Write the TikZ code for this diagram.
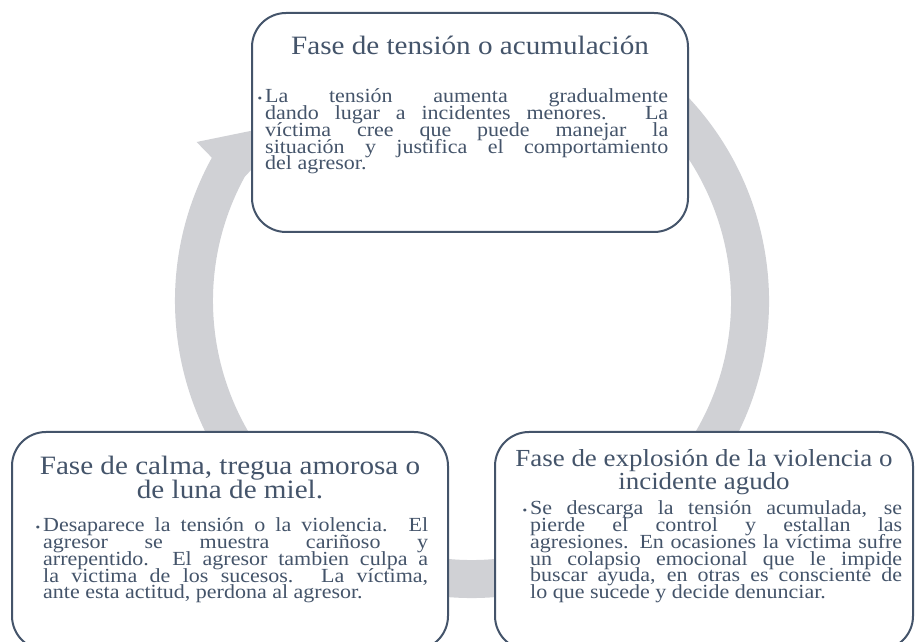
\documentclass[tikz,border=0pt]{standalone}
\usepackage{fontspec}
\setmainfont{Liberation Serif}
\newfontfamily\widefamily[FakeStretch=1.1]{Liberation Serif}
\usepackage{xcolor}
\usetikzlibrary{positioning}
\definecolor{slate}{RGB}{68,84,106}
\definecolor{cyclegray}{RGB}{208,209,213}
\newcommand{\titlefont}{\widefamily\fontsize{26.5}{24}\selectfont\lineskiplimit=-50pt}
\newcommand{\bodyfont}{\widefamily\fontsize{20}{16.7}\selectfont\lineskiplimit=-50pt\hbadness=10000}
\newcommand{\itembullet}{\llap{{\fontsize{12}{12}\selectfont\textbullet}\hspace{3pt}}}
\tikzset{
    phase/.style={draw=slate, line width=2pt, fill=white, rounded corners=34pt, inner sep=0pt},
    phasetitle/.style={text=slate, align=center, inner sep=0pt, font=\titlefont},
    phasetext/.style={text=slate, align=justify, inner sep=0pt, font=\bodyfont},
    cyclearrow/.style={draw=cyclegray, line width=38pt}
}

\begin{document}
\begin{tikzpicture}[x=1pt,y=1pt]
                \useasboundingbox (0,0) rectangle (915,642);
                \clip (0,0) rectangle (915,642);
                \coordinate (cyc) at (472,341);
                \draw[cyclearrow] (cyc) ++(60:278) arc[start angle=60, end angle=-209.5, radius=278];
                \fill[cyclegray] ([shift={(150:318)}]cyc) -- ([shift={(153.5:262)}]cyc) -- ([shift={(134:250)}]cyc) -- cycle;

                \node[phase, minimum width=436pt, minimum height=219pt] (tension) at (470,519.5) {};
                \node[phase, minimum width=436pt, minimum height=218pt] (calma) at (230,101) {};
                \node[phase, minimum width=418pt, minimum height=218pt] (explosion) at (704,101) {};

                \node[phasetitle, anchor=base] (tensiontitle) at (470,587) {Fase de tensión o acumulación};
                \node[phasetitle, anchor=base] (calmatitle) at (230,143) {Fase de calma, tregua amorosa o\\de luna de miel.};
                \node[phasetitle, anchor=base, font=\widefamily\fontsize{24.5}{22}\selectfont] (explosiontitle) at (704,152) {Fase de explosión de la violencia o\\incidente agudo};

                \node[phasetext, text width=403pt, anchor=base west] (tensiontext) at (265,539) {\itembullet La tensión aumenta gradualmente\linebreak
                    dando lugar a incidentes menores. La\linebreak
                    víctima cree que puede manejar la\linebreak
                    situación y justifica el comportamiento\linebreak
                    del agresor.};
                \node[phasetext, text width=385pt, anchor=base west] (calmatext) at (43,110) {\itembullet Desaparece la tensión o la violencia. El\linebreak
                    agresor se muestra cariñoso y\linebreak
                    arrepentido. El agresor tambien culpa a\linebreak
                    la victima de los sucesos. La víctima,\linebreak
                    ante esta actitud, perdona al agresor.};
                \node[phasetext, text width=372pt, anchor=base west] (explosiontext) at (530,127) {\itembullet Se descarga la tensión acumulada, se\linebreak
                    pierde el control y estallan las\linebreak
                    agresiones. En ocasiones la víctima sufre\linebreak
                    un colapsio emocional que le impide\linebreak
                    buscar ayuda, en otras es consciente de\linebreak
                    lo que sucede y decide denunciar.};
\end{tikzpicture}
\end{document}
